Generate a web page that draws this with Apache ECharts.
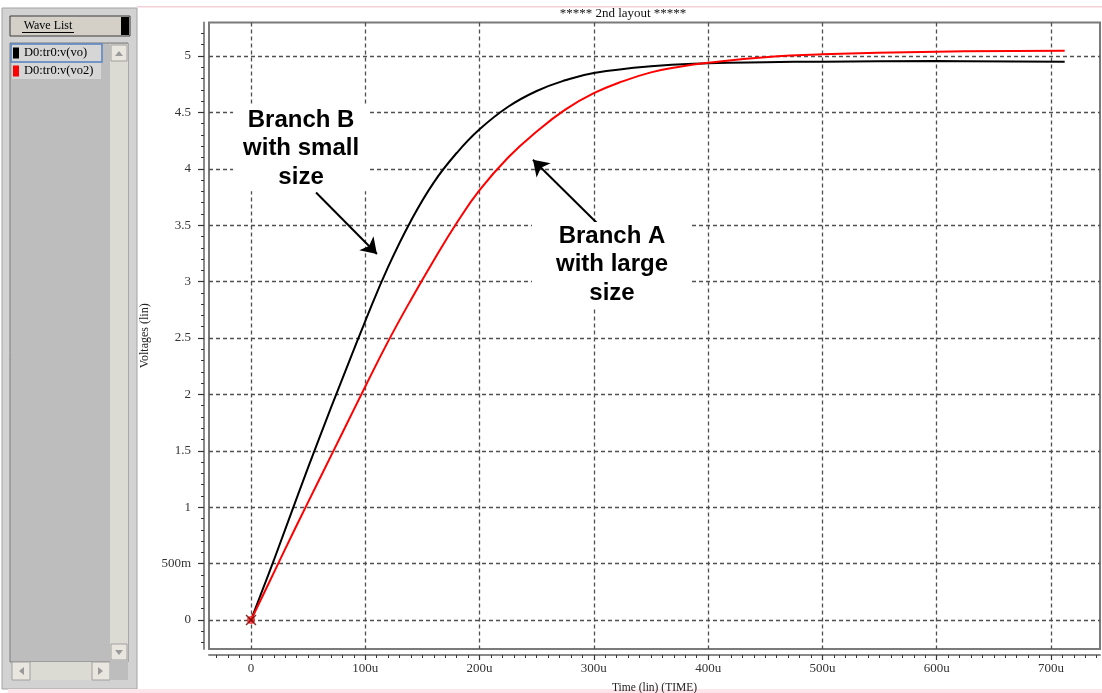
<!DOCTYPE html>
<html>
<head>
<meta charset="utf-8">
<script src="https://cdn.jsdelivr.net/npm/echarts@6/dist/echarts.min.js"></script>
<style>
html,body{margin:0;padding:0;background:#fff;}
#chart{width:1102px;height:693px;}
</style>
</head>
<body>
<div id="chart"></div>
<script>
// ---- data (time in u-seconds, voltage in V) ----
const timeB = [0, 20, 40, 60, 80, 100, 120, 140, 160, 180, 200, 225, 250, 275, 300, 350, 400, 450, 500, 600, 712];
const voB   = [0, 0.53, 1.08, 1.62, 2.14, 2.65, 3.13, 3.54, 3.88, 4.14, 4.35, 4.55, 4.69, 4.785, 4.85, 4.91, 4.935, 4.945, 4.95, 4.955, 4.948];
const timeA = [0, 20, 40, 60, 80, 100, 120, 140, 160, 180, 200, 225, 250, 275, 300, 325, 350, 375, 400, 450, 500, 600, 712];
const vo2A  = [0, 0.42, 0.84, 1.25, 1.66, 2.07, 2.47, 2.84, 3.19, 3.52, 3.81, 4.1, 4.33, 4.525, 4.67, 4.775, 4.855, 4.905, 4.94, 4.99, 5.015, 5.038, 5.047];
const startPoint = [0, 0];
const seriesNames = ['D0:tr0:v(vo)', 'D0:tr0:v(vo2)'];

const xTicks = [0, 100, 200, 300, 400, 500, 600, 700];
const xTickLabels = ['0', '100u', '200u', '300u', '400u', '500u', '600u', '700u'];
const yTicks = [0, 0.5, 1, 1.5, 2, 2.5, 3, 3.5, 4, 4.5, 5];
const yTickLabels = ['0', '500m', '1', '1.5', '2', '2.5', '3', '3.5', '4', '4.5', '5'];

// annotations (data coordinates)
const noteB = [43.8, 4.18];
const noteA = [315.9, 3.15];
const arrowB = [[56.9, 3.79], [110.2, 3.245]];
const arrowA = [[302.7, 3.52], [246.7, 4.08]];

const xMin = -36.75, xMax = 742.9, yMin = -0.257, yMax = 5.297;
const xMinor = []; for (let i = -3; i <= 74; i++) xMinor.push(i * 10);
const yMinor = []; for (let i = -2; i <= 52; i++) yMinor.push(i / 10);

const serif = 'Liberation Serif, Times New Roman, serif';
const zip = (a, b) => a.map((t, i) => [t, b[i]]);

const chart = echarts.init(document.getElementById('chart'));

const panel = [
  {type:'rect', shape:{x:2,y:8,width:135,height:681}, style:{fill:'#d2d2d2', stroke:'#a4a4a4', lineWidth:1}},
  {type:'rect', shape:{x:10,y:16,width:120,height:20}, style:{fill:'#d4d0c8', stroke:'#3a3a3a', lineWidth:1}},
  {type:'rect', shape:{x:121,y:17,width:8,height:18}, style:{fill:'#000'}},
  {type:'text', x:48, y:26, style:{text:'Wave List', font:'12px ' + serif, fill:'#000', align:'center', verticalAlign:'middle'}},
  {type:'line', shape:{x1:22,y1:32.5,x2:74,y2:32.5}, style:{stroke:'#000', lineWidth:1}},
  {type:'rect', shape:{x:10,y:43,width:118,height:619}, style:{fill:'#bdbdbd', stroke:'#7c7c7c', lineWidth:1}},
  {type:'rect', shape:{x:12,y:45,width:89,height:16}, style:{fill:'#d6d6d6'}},
  {type:'rect', shape:{x:12,y:63,width:89,height:16}, style:{fill:'#d6d6d6'}},
  {type:'rect', shape:{x:11,y:44,width:91,height:18}, style:{fill:'none', stroke:'#5b86c8', lineWidth:1.5}},
  {type:'rect', shape:{x:110,y:44,width:18,height:616}, style:{fill:'#dcdbd3'}},
  {type:'rect', shape:{x:111,y:45,width:16,height:16}, style:{fill:'#e8e6de', stroke:'#a0a0a0', lineWidth:1}},
  {type:'polygon', shape:{points:[[115,56],[119,51],[123,56]]}, style:{fill:'#9a9a9a'}},
  {type:'rect', shape:{x:111,y:644,width:16,height:16}, style:{fill:'#e8e6de', stroke:'#a0a0a0', lineWidth:1}},
  {type:'polygon', shape:{points:[[115,650],[119,655],[123,650]]}, style:{fill:'#9a9a9a'}},
  {type:'rect', shape:{x:12,y:662,width:98,height:18}, style:{fill:'#dcdbd3'}},
  {type:'rect', shape:{x:12,y:662,width:18,height:18}, style:{fill:'#e8e6de', stroke:'#a0a0a0', lineWidth:1}},
  {type:'polygon', shape:{points:[[24,667],[19,671],[24,675]]}, style:{fill:'#9a9a9a'}},
  {type:'rect', shape:{x:92,y:662,width:18,height:18}, style:{fill:'#e8e6de', stroke:'#a0a0a0', lineWidth:1}},
  {type:'polygon', shape:{points:[[98,667],[103,671],[98,675]]}, style:{fill:'#9a9a9a'}},
  {type:'rect', shape:{x:110,y:660,width:18,height:20}, style:{fill:'#bdbdbd'}},
  {type:'rect', shape:{x:137,y:6,width:965,height:1.5}, style:{fill:'#f4d0d8'}},
  {type:'rect', shape:{x:8,y:689,width:1094,height:4}, style:{fill:'#fde6ea'}},
  {type:'text', x:623, y:14, style:{text:'***** 2nd layout *****', font:'13px ' + serif, fill:'#111', align:'center', verticalAlign:'middle'}}
];

const majorAxisCommon = (ticks, labels, margin, len) => ({
  axisLine:{show:true, onZero:false, lineStyle:{color:'#8a8a8a', width:2}},
  axisTick:{show:true, customValues:ticks, length:len, lineStyle:{color:'#333', width:1.2}},
  axisLabel:{show:true, customValues:ticks, margin:margin, fontFamily:serif, fontSize:13, color:'#333',
    formatter:function(v){ const i = ticks.indexOf(v); return i >= 0 ? labels[i] : ''; }},
  splitLine:{show:true, lineStyle:{color:'#505050', width:1.3, type:[4,3]}}
});
const minorAxisCommon = (ticks) => ({
  axisLine:{show:false, onZero:false},
  axisTick:{show:true, customValues:ticks, length:3, lineStyle:{color:'#333', width:1}},
  axisLabel:{show:false},
  splitLine:{show:false}
});

const option = {
  animation:false,
  backgroundColor:'#ffffff',
  graphic:panel,
  legend:{data:seriesNames, orient:'vertical', left:13, top:45, padding:0, itemGap:2, itemWidth:6, itemHeight:11,
    icon:'rect', selectedMode:false, z:10, itemStyle:{borderWidth:0},
    textStyle:{fontFamily:serif, fontSize:12.5, color:'#000', lineHeight:16}},
  grid:{left:209, top:22.5, right:2, bottom:44, show:true, borderColor:'#7a7a7a', borderWidth:2,
    backgroundColor:'transparent', containLabel:false, outerBoundsMode:'none'},
  xAxis:[
    Object.assign({type:'value', min:xMin, max:xMax, position:'bottom', offset:6,
      name:'Time (lin) (TIME)', nameLocation:'middle', nameGap:27,
      nameTextStyle:{fontFamily:serif, fontSize:11.5, color:'#222'}}, majorAxisCommon(xTicks, xTickLabels, 7, 5)),
    Object.assign({type:'value', min:xMin, max:xMax, position:'bottom', offset:6}, minorAxisCommon(xMinor))
  ],
  yAxis:[
    Object.assign({type:'value', min:yMin, max:yMax, position:'left', offset:5,
      name:'Voltages (lin)', nameLocation:'middle', nameGap:50, nameRotate:90,
      nameTextStyle:{fontFamily:serif, fontSize:12, color:'#222'}}, majorAxisCommon(yTicks, yTickLabels, 13, 6)),
    Object.assign({type:'value', min:yMin, max:yMax, position:'left', offset:5}, minorAxisCommon(yMinor))
  ],
  series:[
    {name:seriesNames[0], type:'line', data:zip(timeB, voB), symbol:'none', smooth:0.45,
      lineStyle:{color:'#000', width:2}, itemStyle:{color:'#000'}, z:3,
      markPoint:{symbol:'rect', symbolSize:1, silent:true, itemStyle:{color:'rgba(0,0,0,0)'},
        label:{show:true, position:'inside', color:'#000', fontFamily:'Liberation Sans, Arial, sans-serif', fontWeight:'bold',
          fontSize:24, lineHeight:28.5, backgroundColor:'#fff', padding:[0,10], align:'center', verticalAlign:'middle'},
        data:[
          {coord:noteB, label:{formatter:'Branch B\nwith small\nsize'}},
          {coord:noteA, label:{formatter:'Branch A\nwith large\nsize', padding:[0,24]}}
        ]},
      markLine:{silent:true, symbol:['none','arrow'], symbolSize:15, label:{show:false},
        lineStyle:{color:'#000', width:2, type:'solid'},
        data:[
          [{coord:arrowB[0]}, {coord:arrowB[1]}],
          [{coord:arrowA[0]}, {coord:arrowA[1]}]
        ]}
    },
    {name:seriesNames[1], type:'line', data:zip(timeA, vo2A), symbol:'none', smooth:0.45,
      lineStyle:{color:'#ff0000', width:2}, itemStyle:{color:'#ff0000'}, z:4},
    {type:'scatter', data:[startPoint], symbol:'circle', symbolSize:8, itemStyle:{color:'#ff2020'}, z:5, silent:true},
    {type:'scatter', data:[startPoint], symbol:'path://M0,1 L1,0 L5,4 L9,0 L10,1 L6,5 L10,9 L9,10 L5,6 L1,10 L0,9 L4,5 Z',
      symbolSize:11, itemStyle:{color:'#6a0000'}, z:6, silent:true}
  ]
};
chart.setOption(option);
</script>
</body>
</html>
